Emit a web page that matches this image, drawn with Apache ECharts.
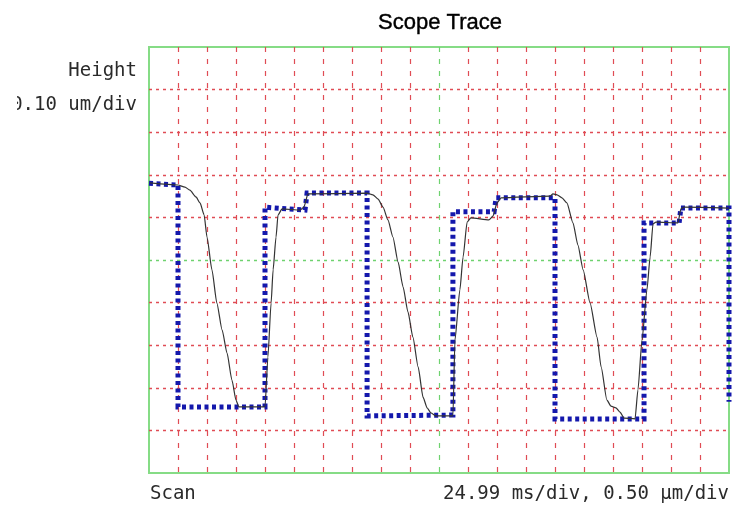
<!DOCTYPE html>
<html>
<head>
<meta charset="utf-8">
<script src="https://cdn.jsdelivr.net/npm/echarts@6/dist/echarts.min.js"></script>
<style>
  html, body { margin: 0; padding: 0; background: #ffffff; }
  #chart { width: 732px; height: 512px; }
</style>
</head>
<body>
<div id="chart"></div>
<script>
// Screen: 20 horizontal divisions (scan), 10 vertical divisions (height)
const scanDivs = 20;
const heightDivs = 10;

// Quantised step trace (blue dotted), in divisions
const stepScan   = [0, 1.0, 1.0, 4.0, 4.0, 5.38, 5.45, 7.52, 7.52, 10.48, 10.48, 11.9, 11.97, 14.0, 14.0, 17.07, 17.07, 18.28, 18.34, 20, 20];
const stepHeight = [6.8, 6.76, 1.55, 1.55, 6.24, 6.17, 6.57, 6.57, 1.34, 1.36, 6.13, 6.13, 6.46, 6.46, 1.27, 1.27, 5.87, 5.87, 6.22, 6.22, 1.67];

// Measured surface profile (thin dark line), in divisions
const profileScan = [
  0.03, 1.0, 1.24, 1.41, 1.62, 1.76, 1.9, 2.0, 2.17, 2.34, 2.52, 2.69, 2.86, 3.0, 3.1,
  4.0, 4.1, 4.21, 4.28, 4.38, 4.45, 4.59, 5.21, 5.34, 5.48,
  7.52, 7.72, 7.9, 8.07, 8.24, 8.41, 8.59, 8.76, 8.93, 9.1, 9.28, 9.45, 9.59, 9.72, 9.9,
  10.48, 10.55, 10.72, 10.83, 10.97, 11.1, 11.72, 11.86, 12.0, 12.14,
  13.83, 13.93, 14.07, 14.24, 14.41, 14.62, 14.79, 14.97, 15.21, 15.45, 15.59, 15.79, 15.93, 16.1, 16.24, 16.38,
  16.76, 16.86, 17.0, 17.17, 17.28, 17.38, 17.48, 18.24, 18.34, 18.45, 20.0
];
const profileHeight = [
  6.81, 6.76, 6.71, 6.64, 6.48, 6.34, 6.06, 5.54, 4.77, 3.99, 3.36, 2.82, 2.18, 1.71, 1.55,
  1.55, 2.72, 3.99, 4.77, 5.54, 6.06, 6.2, 6.17, 6.24, 6.55,
  6.57, 6.53, 6.43, 6.24, 5.94, 5.54, 4.95, 4.37, 3.78, 3.19, 2.49, 1.78, 1.53, 1.41, 1.34,
  1.34, 3.12, 4.3, 5.07, 5.89, 5.99, 5.94, 6.03, 6.34, 6.46,
  6.5, 6.55, 6.53, 6.46, 6.34, 5.87, 5.35, 4.77, 3.99, 3.19, 2.49, 1.71, 1.57, 1.53, 1.43, 1.29,
  1.27, 1.95, 3.12, 4.3, 5.07, 5.85, 5.89, 5.87, 6.2, 6.24, 6.22
];

// Screen annotations
const titleText = 'Scope Trace';
const heightLabel = 'Height';
const heightScale = '0.10 um/div';
const scanLabel = 'Scan';
const scanScale = '24.99 ms/div, 0.50 \u00b5m/div';

const RED = '#e04c55';
const GREEN = '#86dc86';
const CENTRE_GREEN = '#6fd26f';
const BLUE = '#1418ac';
const MONO = '"DejaVu Sans Mono", "Liberation Mono", monospace';

// One colour per graticule line: edges hidden (border shows), centre line green
function graticuleColors(n) {
  const c = [];
  for (let i = 0; i <= n; i++) {
    if (i === 0 || i === n) c.push('rgba(0,0,0,0)');
    else if (i === n / 2) c.push(CENTRE_GREEN);
    else c.push(RED);
  }
  return c;
}

const zip = (xs, ys) => xs.map((x, i) => [x, ys[i]]);

const chart = echarts.init(document.getElementById('chart'), null, { renderer: 'canvas' });

chart.setOption({
  animation: false,
  backgroundColor: '#ffffff',
  grid: {
    left: 149, top: 47, width: 580, height: 426,
    show: true, borderColor: GREEN, borderWidth: 2, backgroundColor: 'transparent'
  },
  xAxis: {
    type: 'value', min: 0, max: scanDivs, interval: 1,
    axisLine: { show: false }, axisTick: { show: false }, axisLabel: { show: false },
    splitLine: {
      show: true, showMinLine: true, showMaxLine: true,
      lineStyle: { color: graticuleColors(scanDivs), width: 1.2, type: [5, 7] }
    }
  },
  yAxis: {
    type: 'value', min: 0, max: heightDivs, interval: 1,
    axisLine: { show: false }, axisTick: { show: false }, axisLabel: { show: false },
    splitLine: {
      show: true, showMinLine: true, showMaxLine: true,
      lineStyle: { color: graticuleColors(heightDivs), width: 1.4, type: [3, 4] }
    }
  },
  series: [
    {
      name: 'step',
      type: 'line',
      data: zip(stepScan, stepHeight),
      showSymbol: false,
      symbol: 'none',
      clip: false,
      z: 3,
      lineStyle: { color: BLUE, width: 5, type: [4, 3.5], cap: 'butt', join: 'miter' }
    },
    {
      name: 'profile',
      type: 'line',
      data: zip(profileScan, profileHeight),
      showSymbol: false,
      symbol: 'none',
      smooth: 0.2,
      smoothMonotone: 'x',
      z: 4,
      lineStyle: { color: '#333333', width: 1.2 }
    }
  ],
  graphic: [
    {
      type: 'text', x: 440, y: 23,
      style: { text: titleText, font: '22px "Liberation Sans", Arial, sans-serif', fill: '#000',
               textAlign: 'center', textVerticalAlign: 'middle',
               stroke: '#000', lineWidth: 0.4 }
    },
    {
      type: 'text', x: 137, y: 71,
      style: { text: heightLabel, font: '19px ' + MONO, fill: '#2a2a2a',
               textAlign: 'right', textVerticalAlign: 'middle' }
    },
    {
      type: 'text', x: 137, y: 105,
      style: { text: heightScale, font: '19px ' + MONO, fill: '#2a2a2a',
               textAlign: 'right', textVerticalAlign: 'middle' }
    },
    {
      // left margin of the label area hides the leading glyph edge
      type: 'rect', shape: { x: 0, y: 90, width: 17, height: 30 },
      style: { fill: '#ffffff' }, z: 10
    },
    {
      type: 'text', x: 150, y: 494,
      style: { text: scanLabel, font: '19px ' + MONO, fill: '#2a2a2a',
               textAlign: 'left', textVerticalAlign: 'middle' }
    },
    {
      type: 'text', x: 729, y: 494,
      style: { text: scanScale, font: '19px ' + MONO, fill: '#2a2a2a',
               textAlign: 'right', textVerticalAlign: 'middle' }
    }
  ]
});
</script>
</body>
</html>
